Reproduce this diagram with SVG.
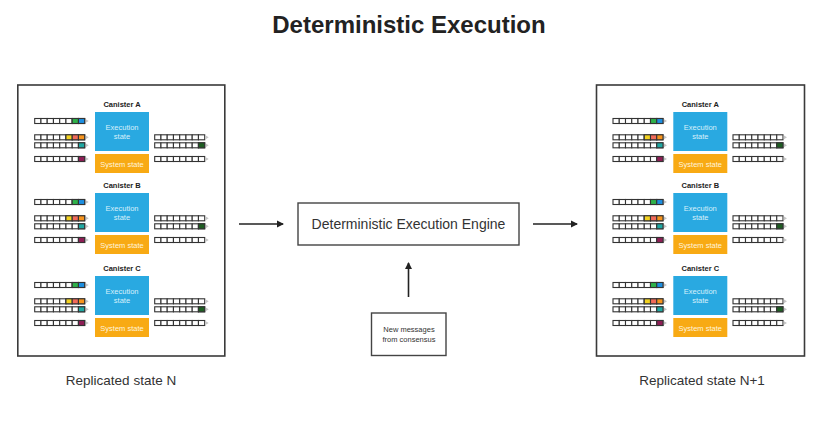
<svg xmlns="http://www.w3.org/2000/svg" xmlns:xlink="http://www.w3.org/1999/xlink" width="833" height="426" viewBox="0 0 833 426">
<style>
text{font-family:"Liberation Sans",Arial,sans-serif;text-anchor:middle}
.title{font-size:24px;font-weight:bold;fill:#222}
.frame{fill:#fff;stroke:#3a3a3a;stroke-width:1.6}
.box{fill:#fff;stroke:#444;stroke-width:1.4}
.lbl{font-size:13.5px;fill:#333}
.eng{font-size:14px;fill:#333}
.msg{font-size:7.5px;fill:#333}
.cn{font-size:7.5px;font-weight:bold;fill:#222}
.ex{fill:#29a9e1}
.sy{fill:#f8aa14}
.ext{font-size:7.5px;fill:#d8f0fb}
.syt{font-size:7.5px;fill:#fff4dc}
.cell{fill:#fff;stroke:#333;stroke-width:1.1}
.tip{fill:#c4c4c4}
.conn{stroke:#222;stroke-width:1.6;fill:none}
</style>
<defs>
<marker id="ah" markerWidth="8" markerHeight="8" refX="6" refY="4" orient="auto" markerUnits="userSpaceOnUse">
<path d="M0,0.5 L7,4 L0,7.5 z" fill="#222"/>
</marker>
<g id="q">
<rect class="cell" x="0" y="0" width="6.25" height="5"/>
<rect class="cell" x="6.25" y="0" width="6.25" height="5"/>
<rect class="cell" x="12.5" y="0" width="6.25" height="5"/>
<rect class="cell" x="18.75" y="0" width="6.25" height="5"/>
<rect class="cell" x="25" y="0" width="6.25" height="5"/>
<rect class="cell" x="31.25" y="0" width="6.25" height="5"/>
<rect class="cell" x="37.5" y="0" width="6.25" height="5"/>
<rect class="cell" x="43.75" y="0" width="6.25" height="5"/>
<path class="tip" d="M50.6,0.4 L54,2.5 L50.6,4.6 z"/>
</g>
<g id="can">
<rect class="ex" x="0" y="0" width="54" height="39"/>
<text class="ext" x="27" y="17.5">Execution</text>
<text class="ext" x="27" y="27">state</text>
<rect class="sy" x="0" y="42" width="54" height="19"/>
<text class="syt" x="27" y="54.5">System state</text>
<use xlink:href="#q" x="-60.3" y="6.5"/>
<rect class="cell" x="-22.8" y="6.5" width="6.25" height="5" style="fill:#2fb24a"/>
<rect class="cell" x="-16.55" y="6.5" width="6.25" height="5" style="fill:#1d8fe1"/>
<use xlink:href="#q" x="-60.3" y="22.8"/>
<rect class="cell" x="-29.05" y="22.8" width="6.25" height="5" style="fill:#f4d320"/>
<rect class="cell" x="-22.8" y="22.8" width="6.25" height="5" style="fill:#f26a5a"/>
<rect class="cell" x="-16.55" y="22.8" width="6.25" height="5" style="fill:#f7941d"/>
<use xlink:href="#q" x="-60.3" y="30.8"/>
<rect class="cell" x="-16.55" y="30.8" width="6.25" height="5" style="fill:#1fa8a2"/>
<use xlink:href="#q" x="-60.3" y="44.5"/>
<rect class="cell" x="-16.55" y="44.5" width="6.25" height="5" style="fill:#8e1e56"/>
<use xlink:href="#q" x="59.7" y="22.8"/>
<use xlink:href="#q" x="59.7" y="30.8"/>
<rect class="cell" x="103.45" y="30.8" width="6.25" height="5" style="fill:#1e5e22"/>
<use xlink:href="#q" x="59.7" y="44.5"/>
</g>
</defs>
<rect width="833" height="426" fill="#fff"/>
<text class="title" x="409" y="33">Deterministic Execution</text>

<g id="state-n">
<rect class="frame" x="17.8" y="85" width="207" height="271"/>
<g id="canister-a-n" transform="translate(95,112)"><text class="cn" x="27" y="-5.5">Canister A</text><use xlink:href="#can"/></g>
<g id="canister-b-n" transform="translate(95,193)"><text class="cn" x="27" y="-5.5">Canister B</text><use xlink:href="#can"/></g>
<g id="canister-c-n" transform="translate(95,276)"><text class="cn" x="27" y="-5.5">Canister C</text><use xlink:href="#can"/></g>
<text class="lbl" x="121" y="385">Replicated state N</text>
</g>

<g id="engine">
<rect class="box" x="298" y="203" width="221" height="42"/>
<text class="eng" x="408.5" y="229">Deterministic Execution Engine</text>
</g>

<g id="messages">
<rect class="box" x="371.5" y="313" width="74.5" height="42.5"/>
<text class="msg" x="409" y="331.5">New messages</text>
<text class="msg" x="409" y="342">from consensus</text>
</g>

<g id="state-n1">
<rect class="frame" x="596.5" y="85" width="208" height="271"/>
<g id="canister-a-n1" transform="translate(673.3,112)"><text class="cn" x="27" y="-5.5">Canister A</text><use xlink:href="#can"/></g>
<g id="canister-b-n1" transform="translate(673.3,193)"><text class="cn" x="27" y="-5.5">Canister B</text><use xlink:href="#can"/></g>
<g id="canister-c-n1" transform="translate(673.3,276)"><text class="cn" x="27" y="-5.5">Canister C</text><use xlink:href="#can"/></g>
<text class="lbl" x="702" y="385">Replicated state N+1</text>
</g>

<g id="connectors">
<line class="conn" x1="239" y1="224" x2="283" y2="224" marker-end="url(#ah)"/>
<line class="conn" x1="533" y1="224" x2="577" y2="224" marker-end="url(#ah)"/>
<line class="conn" x1="408.5" y1="297" x2="408.5" y2="263" marker-end="url(#ah)"/>
</g>
</svg>
